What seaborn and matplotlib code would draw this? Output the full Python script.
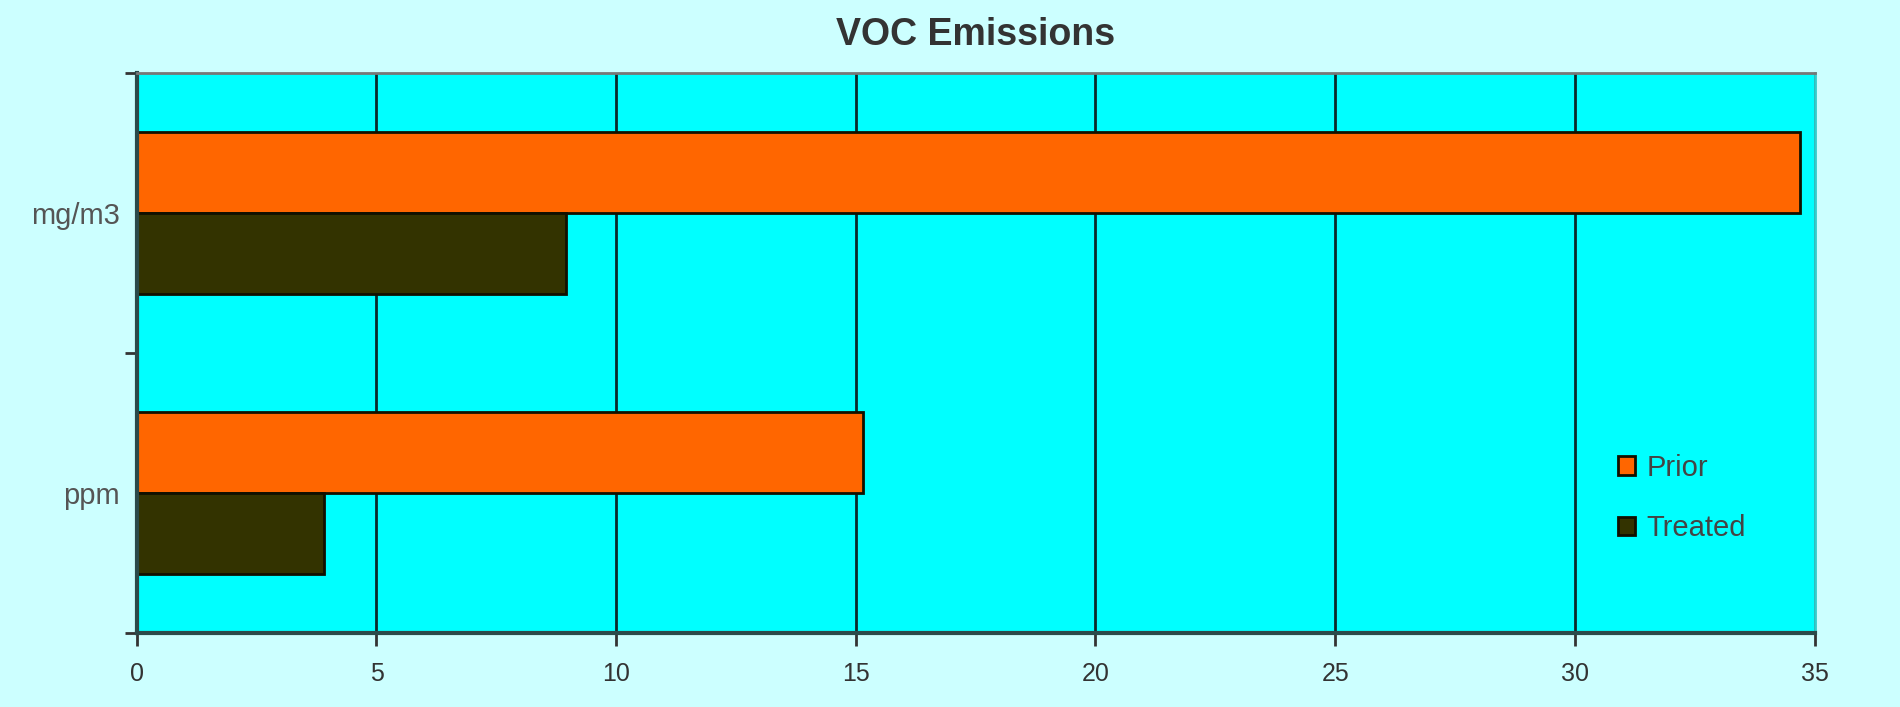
import numpy as np
import pandas as pd
import matplotlib
matplotlib.use("Agg")
import matplotlib.pyplot as plt
import seaborn as sns

units = ["mg/m3", "ppm"]
stages = ["Prior", "Treated"]
prior = [34.7, 15.15]
treated = [8.95, 3.9]

df = pd.DataFrame({
    "unit": units * 2,
    "stage": ["Prior"] * 2 + ["Treated"] * 2,
    "value": prior + treated,
})

sns.set_style("white")
plt.rcParams["font.family"] = ["Liberation Sans", "DejaVu Sans"]

fig = plt.figure(figsize=(19, 7.07), dpi=100, facecolor="#ccffff")
ax = fig.add_axes([0.072, 0.105, 0.883, 0.792])
ax.set_facecolor("#00ffff")

sns.barplot(data=df, y="unit", x="value", hue="stage", orient="h",
            palette={"Prior": "#ff6600", "Treated": "#333300"}, saturation=1,
            width=0.58, edgecolor="#111100", linewidth=2, ax=ax)

ax.set_xlim(0, 35)
ax.set_ylim(1.5, -0.5)
ax.set_xticks(np.arange(0, 36, 5))
ax.xaxis.grid(True, color="#0a2a2a", linewidth=2)
ax.set_axisbelow(True)
ax.set_xlabel("")
ax.set_ylabel("")

# category boundary ticks on the y axis
ax.set_yticks([-0.5, 0.5, 1.5], minor=True)
ax.tick_params(axis="y", which="major", length=0, labelsize=21, labelcolor="#555555", pad=12)
ax.tick_params(axis="y", which="minor", length=9, width=2, color="#333333", left=True)
ax.tick_params(axis="x", length=9, width=2, color="#333333", bottom=True,
               labelsize=18, labelcolor="#333333", pad=12)

for side in ["left", "bottom"]:
    ax.spines[side].set_color("#2a4a4a")
    ax.spines[side].set_linewidth(3)
ax.spines["top"].set_color("#777777")
ax.spines["top"].set_linewidth(2)
ax.spines["right"].set_color("#33cccc")
ax.spines["right"].set_linewidth(2)

ax.set_title("VOC Emissions", fontsize=27, fontweight="bold", color="#333333", pad=20)

leg = ax.legend(loc="lower right", bbox_to_anchor=(0.975, 0.115), frameon=False,
                fontsize=21, labelcolor="#444444", handlelength=0.6, handleheight=0.6,
                handletextpad=0.4, labelspacing=1.1)

fig.savefig("out.png", dpi=100, facecolor=fig.get_facecolor())
